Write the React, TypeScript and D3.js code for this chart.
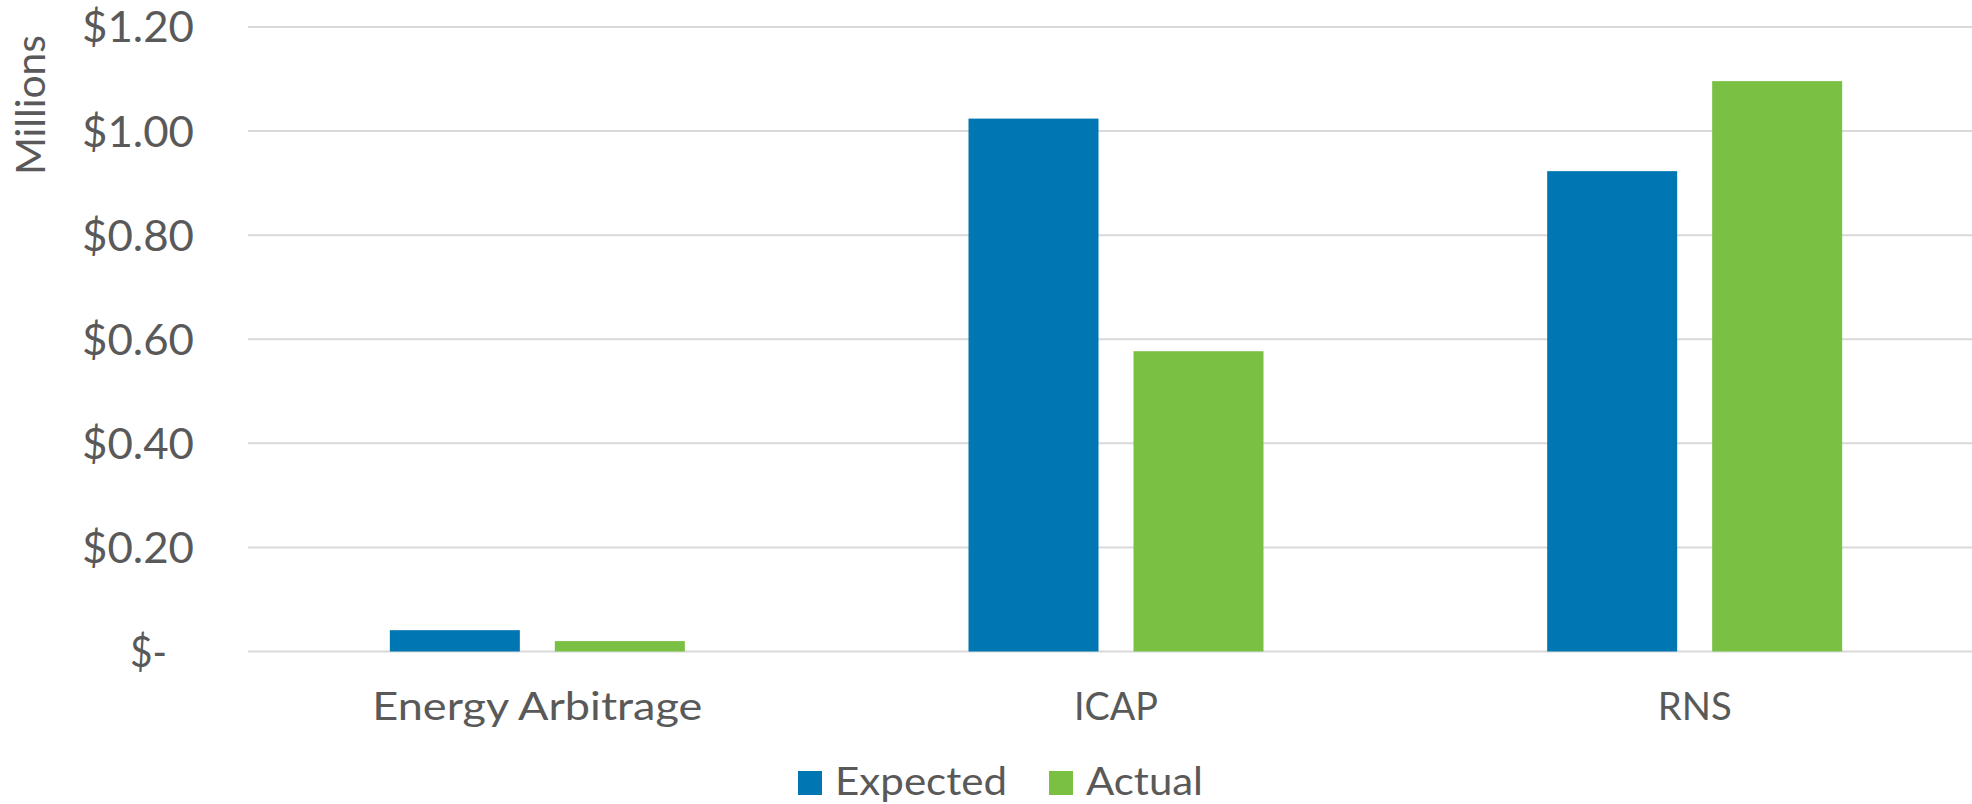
import React from "react";
import * as d3 from "d3";

const categories = ["Energy Arbitrage", "ICAP", "RNS"];
const seriesNames = ["Expected", "Actual"];
const expected = [0.041, 1.024, 0.923];
const actual = [0.02, 0.577, 1.096];
const yTicks = [0, 0.2, 0.4, 0.6, 0.8, 1.0, 1.2];

const colors = ["#0077B3", "#7AC143"];
const textColor = "#595959";
const gridColor = "#D9D9D9";
const fontFamily = "Lato, 'Open Sans', sans-serif";

const W = 1972;
const H = 804;

// Rendered widths of the wide geometric face used for labels
const categoryLabelWidth: Record<string, number> = {
  "Energy Arbitrage": 330,
  ICAP: 84,
  RNS: 74,
};
const legendLabelWidth: Record<string, number> = { Expected: 172, Actual: 117 };

export default function App() {
  const x = d3.scaleBand<string>().domain(categories).range([248, 1984]).padding(0);
  const y = d3.scaleLinear().domain([0, 1.2]).range([651.5, 27]);

  const barW = 130;
  const gap = 35;
  const groupW = barW * 2 + gap;
  const series = [expected, actual];

  const fmt = (v: number) => (v === 0 ? "$-" : "$" + d3.format(".2f")(v));

  return (
    <svg
      width={W}
      height={H}
      style={{ position: "absolute", left: 0, top: 0, background: "#fff" }}
      fontFamily={fontFamily}
    >
      <rect x={0} y={0} width={W} height={H} fill="#fff" />
      {yTicks.map((t) => (
        <g key={t}>
          <line x1={248} x2={W} y1={y(t)} y2={y(t)} stroke={gridColor} strokeWidth={2} />
          <text
            x={t === 0 ? 130 : 82}
            y={y(t)}
            dy="0.36em"
            textAnchor="start"
            fill={textColor}
            fontSize={43}
            textLength={t === 0 ? 37 : 112}
            lengthAdjust="spacingAndGlyphs"
          >
            {fmt(t)}
          </text>
        </g>
      ))}
      <text
        transform={`translate(45,105) rotate(-90)`}
        textAnchor="middle"
        fill={textColor}
        fontSize={40}
        textLength={140}
        lengthAdjust="spacingAndGlyphs"
      >
        Millions
      </text>
      {categories.map((c, i) => {
        const cx = (x(c) as number) + x.bandwidth() / 2;
        const x0 = cx - groupW / 2;
        return (
          <g key={c}>
            {series.map((s, j) => (
              <rect
                key={j}
                x={x0 + j * (barW + gap)}
                y={y(s[i])}
                width={barW}
                height={y(0) - y(s[i])}
                fill={colors[j]}
              />
            ))}
            <text
              x={cx - categoryLabelWidth[c] / 2}
              y={720}
              fill={textColor}
              fontSize={39}
              textLength={categoryLabelWidth[c]}
              lengthAdjust="spacingAndGlyphs"
            >
              {c}
            </text>
          </g>
        );
      })}
      <g>
        {seriesNames.map((n, j) => {
          const lx = [798, 1049][j];
          return (
            <g key={n}>
              <rect x={lx} y={771} width={24} height={24} fill={colors[j]} />
              <text
                x={lx + 37}
                y={795}
                fill={textColor}
                fontSize={38}
                textLength={legendLabelWidth[n]}
                lengthAdjust="spacingAndGlyphs"
              >
                {n}
              </text>
            </g>
          );
        })}
      </g>
    </svg>
  );
}
